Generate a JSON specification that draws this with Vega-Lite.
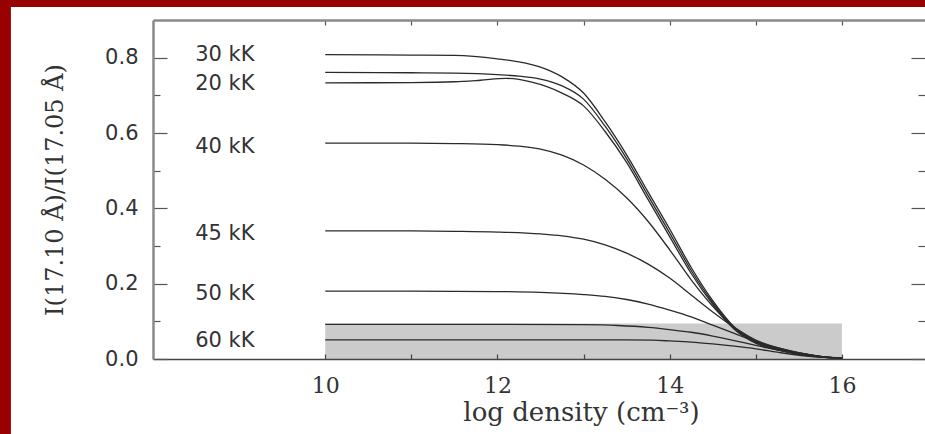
{
  "$schema": "https://vega.github.io/schema/vega-lite/v6.json",
  "width": 772,
  "height": 339,
  "autosize": {"type": "none"},
  "padding": {"left": 153, "top": 20, "right": 0, "bottom": 75},
  "background": "#990000",
  "config": {"view": {"stroke": null}, "axis": {"grid": false}},
  "datasets": {
    "curves": [
      {"series": "30 kK", "x": 10, "y": 0.808}, {"series": "30 kK", "x": 11, "y": 0.807}, {"series": "30 kK", "x": 11.5, "y": 0.806}, {"series": "30 kK", "x": 12, "y": 0.797}, {"series": "30 kK", "x": 12.25, "y": 0.789}, {"series": "30 kK", "x": 12.5, "y": 0.775}, {"series": "30 kK", "x": 12.75, "y": 0.749}, {"series": "30 kK", "x": 13, "y": 0.706}, {"series": "30 kK", "x": 13.25, "y": 0.63}, {"series": "30 kK", "x": 13.5, "y": 0.542}, {"series": "30 kK", "x": 13.75, "y": 0.443}, {"series": "30 kK", "x": 14, "y": 0.345}, {"series": "30 kK", "x": 14.25, "y": 0.243}, {"series": "30 kK", "x": 14.5, "y": 0.155}, {"series": "30 kK", "x": 14.75, "y": 0.085}, {"series": "30 kK", "x": 15, "y": 0.045}, {"series": "30 kK", "x": 15.25, "y": 0.026}, {"series": "30 kK", "x": 15.5, "y": 0.014}, {"series": "30 kK", "x": 15.75, "y": 0.006}, {"series": "30 kK", "x": 16, "y": 0.002},
      {"series": "25 kK", "x": 10, "y": 0.761}, {"series": "25 kK", "x": 11, "y": 0.76}, {"series": "25 kK", "x": 11.5, "y": 0.759}, {"series": "25 kK", "x": 12, "y": 0.755}, {"series": "25 kK", "x": 12.25, "y": 0.751}, {"series": "25 kK", "x": 12.5, "y": 0.743}, {"series": "25 kK", "x": 12.75, "y": 0.725}, {"series": "25 kK", "x": 13, "y": 0.69}, {"series": "25 kK", "x": 13.25, "y": 0.618}, {"series": "25 kK", "x": 13.5, "y": 0.532}, {"series": "25 kK", "x": 13.75, "y": 0.433}, {"series": "25 kK", "x": 14, "y": 0.335}, {"series": "25 kK", "x": 14.25, "y": 0.235}, {"series": "25 kK", "x": 14.5, "y": 0.15}, {"series": "25 kK", "x": 14.75, "y": 0.082}, {"series": "25 kK", "x": 15, "y": 0.043}, {"series": "25 kK", "x": 15.25, "y": 0.025}, {"series": "25 kK", "x": 15.5, "y": 0.013}, {"series": "25 kK", "x": 15.75, "y": 0.006}, {"series": "25 kK", "x": 16, "y": 0.002},
      {"series": "20 kK", "x": 10, "y": 0.733}, {"series": "20 kK", "x": 11, "y": 0.734}, {"series": "20 kK", "x": 11.5, "y": 0.736}, {"series": "20 kK", "x": 11.8, "y": 0.74}, {"series": "20 kK", "x": 12.1, "y": 0.745}, {"series": "20 kK", "x": 12.4, "y": 0.735}, {"series": "20 kK", "x": 12.75, "y": 0.706}, {"series": "20 kK", "x": 13, "y": 0.672}, {"series": "20 kK", "x": 13.25, "y": 0.604}, {"series": "20 kK", "x": 13.5, "y": 0.522}, {"series": "20 kK", "x": 13.75, "y": 0.423}, {"series": "20 kK", "x": 14, "y": 0.325}, {"series": "20 kK", "x": 14.25, "y": 0.227}, {"series": "20 kK", "x": 14.5, "y": 0.145}, {"series": "20 kK", "x": 14.75, "y": 0.079}, {"series": "20 kK", "x": 15, "y": 0.042}, {"series": "20 kK", "x": 15.25, "y": 0.024}, {"series": "20 kK", "x": 15.5, "y": 0.013}, {"series": "20 kK", "x": 15.75, "y": 0.005}, {"series": "20 kK", "x": 16, "y": 0.002},
      {"series": "40 kK", "x": 10, "y": 0.573}, {"series": "40 kK", "x": 11, "y": 0.573}, {"series": "40 kK", "x": 11.5, "y": 0.572}, {"series": "40 kK", "x": 12, "y": 0.569}, {"series": "40 kK", "x": 12.25, "y": 0.565}, {"series": "40 kK", "x": 12.5, "y": 0.557}, {"series": "40 kK", "x": 12.75, "y": 0.541}, {"series": "40 kK", "x": 13, "y": 0.515}, {"series": "40 kK", "x": 13.25, "y": 0.477}, {"series": "40 kK", "x": 13.5, "y": 0.428}, {"series": "40 kK", "x": 13.75, "y": 0.365}, {"series": "40 kK", "x": 14, "y": 0.29}, {"series": "40 kK", "x": 14.25, "y": 0.21}, {"series": "40 kK", "x": 14.5, "y": 0.14}, {"series": "40 kK", "x": 14.75, "y": 0.082}, {"series": "40 kK", "x": 15, "y": 0.048}, {"series": "40 kK", "x": 15.25, "y": 0.028}, {"series": "40 kK", "x": 15.5, "y": 0.016}, {"series": "40 kK", "x": 15.75, "y": 0.007}, {"series": "40 kK", "x": 16, "y": 0.002},
      {"series": "45 kK", "x": 10, "y": 0.34}, {"series": "45 kK", "x": 11, "y": 0.34}, {"series": "45 kK", "x": 11.5, "y": 0.339}, {"series": "45 kK", "x": 12, "y": 0.337}, {"series": "45 kK", "x": 12.5, "y": 0.332}, {"series": "45 kK", "x": 12.75, "y": 0.327}, {"series": "45 kK", "x": 13, "y": 0.318}, {"series": "45 kK", "x": 13.25, "y": 0.303}, {"series": "45 kK", "x": 13.5, "y": 0.281}, {"series": "45 kK", "x": 13.75, "y": 0.252}, {"series": "45 kK", "x": 14, "y": 0.215}, {"series": "45 kK", "x": 14.25, "y": 0.17}, {"series": "45 kK", "x": 14.5, "y": 0.125}, {"series": "45 kK", "x": 14.75, "y": 0.084}, {"series": "45 kK", "x": 15, "y": 0.05}, {"series": "45 kK", "x": 15.25, "y": 0.03}, {"series": "45 kK", "x": 15.5, "y": 0.016}, {"series": "45 kK", "x": 15.75, "y": 0.007}, {"series": "45 kK", "x": 16, "y": 0.002},
      {"series": "50 kK", "x": 10, "y": 0.18}, {"series": "50 kK", "x": 11, "y": 0.18}, {"series": "50 kK", "x": 12, "y": 0.179}, {"series": "50 kK", "x": 12.5, "y": 0.177}, {"series": "50 kK", "x": 13, "y": 0.171}, {"series": "50 kK", "x": 13.25, "y": 0.166}, {"series": "50 kK", "x": 13.5, "y": 0.158}, {"series": "50 kK", "x": 13.75, "y": 0.146}, {"series": "50 kK", "x": 14, "y": 0.13}, {"series": "50 kK", "x": 14.25, "y": 0.112}, {"series": "50 kK", "x": 14.5, "y": 0.09}, {"series": "50 kK", "x": 14.75, "y": 0.068}, {"series": "50 kK", "x": 15, "y": 0.046}, {"series": "50 kK", "x": 15.25, "y": 0.03}, {"series": "50 kK", "x": 15.5, "y": 0.017}, {"series": "50 kK", "x": 15.75, "y": 0.007}, {"series": "50 kK", "x": 16, "y": 0.002},
      {"series": "55 kK", "x": 10, "y": 0.092}, {"series": "55 kK", "x": 12, "y": 0.092}, {"series": "55 kK", "x": 13, "y": 0.091}, {"series": "55 kK", "x": 13.4, "y": 0.089}, {"series": "55 kK", "x": 13.75, "y": 0.084}, {"series": "55 kK", "x": 14, "y": 0.078}, {"series": "55 kK", "x": 14.25, "y": 0.071}, {"series": "55 kK", "x": 14.5, "y": 0.061}, {"series": "55 kK", "x": 14.75, "y": 0.049}, {"series": "55 kK", "x": 15, "y": 0.036}, {"series": "55 kK", "x": 15.25, "y": 0.024}, {"series": "55 kK", "x": 15.5, "y": 0.013}, {"series": "55 kK", "x": 15.75, "y": 0.006}, {"series": "55 kK", "x": 16, "y": 0.002},
      {"series": "60 kK", "x": 10, "y": 0.051}, {"series": "60 kK", "x": 12, "y": 0.051}, {"series": "60 kK", "x": 13.5, "y": 0.051}, {"series": "60 kK", "x": 13.8, "y": 0.05}, {"series": "60 kK", "x": 14, "y": 0.048}, {"series": "60 kK", "x": 14.25, "y": 0.045}, {"series": "60 kK", "x": 14.5, "y": 0.04}, {"series": "60 kK", "x": 14.75, "y": 0.034}, {"series": "60 kK", "x": 15, "y": 0.027}, {"series": "60 kK", "x": 15.25, "y": 0.018}, {"series": "60 kK", "x": 15.5, "y": 0.01}, {"series": "60 kK", "x": 15.75, "y": 0.005}, {"series": "60 kK", "x": 16, "y": 0.002}
    ],
    "labels": [
      {"label": "30 kK", "x": 8.49, "y": 0.806},
      {"label": "20 kK", "x": 8.49, "y": 0.729},
      {"label": "40 kK", "x": 8.49, "y": 0.564},
      {"label": "45 kK", "x": 8.49, "y": 0.333},
      {"label": "50 kK", "x": 8.49, "y": 0.172},
      {"label": "60 kK", "x": 8.49, "y": 0.047}
    ],
    "band": [
      {"x": 10, "x2": 16, "y": 0, "y2": 0.094}
    ]
  },
  "layer": [
    {
      "data": {"values": [{}]},
      "mark": {"type": "rect", "fill": "#ffffff", "clip": false},
      "encoding": {
        "x": {"datum": 6.35, "type": "quantitative", "scale": {"domain": [8, 16.965], "nice": false, "zero": false}, "axis": null},
        "x2": {"datum": 20},
        "y": {"datum": 0.9345, "type": "quantitative", "scale": {"domain": [0, 0.9], "nice": false, "zero": false}, "axis": null},
        "y2": {"datum": -1}
      }
    },
    {
      "data": {"name": "band"},
      "mark": {"type": "rect", "fill": "#cbcbcb"},
      "encoding": {
        "x": {"field": "x", "type": "quantitative", "scale": {"domain": [8, 16.965], "nice": false, "zero": false},
          "axis": {"orient": "bottom", "zindex": 2, "values": [10, 11, 12, 13, 14, 15, 16], "tickSize": -5, "tickColor": "#444", "tickWidth": 1.2,
            "labelExpr": "datum.value % 2 == 0 ? datum.label : ''", "labelFont": "DejaVu Serif", "labelFontSize": 22, "labelColor": "#333", "labelPadding": 21, "labelOverlap": false, "labelFlush": false,
            "domainColor": "#444", "domainWidth": 1.5,
            "title": "log density (cm⁻³)", "titleFont": "DejaVu Serif", "titleFontSize": 26, "titleFontWeight": "normal", "titleColor": "#333",
            "titleX": 428, "titleY": 61, "titleAlign": "center", "titleBaseline": "alphabetic"}},
        "x2": {"field": "x2"},
        "y": {"field": "y", "type": "quantitative", "scale": {"domain": [0, 0.9], "nice": false, "zero": false},
          "axis": {"orient": "left", "zindex": 2, "values": [0, 0.1, 0.2, 0.3, 0.4, 0.5, 0.6, 0.7, 0.8], "format": ".1f",
            "tickSize": {"condition": {"test": "round(datum.value * 10) % 2 == 0", "value": -14}, "value": -7}, "tickColor": "#555", "tickWidth": 1.2,
            "labelExpr": "round(datum.value * 10) % 2 == 0 ? datum.label : ''", "labelFont": "DejaVu Sans", "labelFontSize": 21, "labelColor": "#333", "labelPadding": 29, "labelOverlap": false, "labelFlush": false,
            "domainColor": "#8a8a8a", "domainWidth": 2.5,
            "title": "I(17.10 Å)/I(17.05 Å)", "titleFont": "DejaVu Serif", "titleFontSize": 24, "titleFontWeight": "normal", "titleColor": "#333",
            "titleX": -91, "titleY": 169.5, "titleAngle": -90, "titleAlign": "center", "titleBaseline": "alphabetic"}},
        "y2": {"field": "y2"}
      }
    },
    {
      "data": {"name": "curves"},
      "mark": {"type": "line", "interpolate": "monotone", "stroke": "#2a2a2a", "strokeWidth": 1.3},
      "encoding": {
        "x": {"field": "x", "type": "quantitative", "scale": {"domain": [8, 16.965], "nice": false, "zero": false},
          "axis": {"orient": "top", "zindex": 2, "values": [10, 11, 12, 13, 14, 15, 16], "tickSize": -5, "tickColor": "#555", "tickWidth": 1.2, "labels": false, "title": null, "domainColor": "#8a8a8a", "domainWidth": 2.5}},
        "y": {"field": "y", "type": "quantitative", "scale": {"domain": [0, 0.9], "nice": false, "zero": false},
          "axis": {"orient": "right", "zindex": 2, "values": [0, 0.1, 0.2, 0.3, 0.4, 0.5, 0.6, 0.7, 0.8],
            "tickSize": {"condition": {"test": "round(datum.value * 10) % 2 == 0", "value": -14}, "value": -7}, "tickColor": "#555", "tickWidth": 1.2, "labels": false, "title": null, "domain": false}},
        "detail": {"field": "series", "type": "nominal"}
      }
    },
    {
      "data": {"name": "labels"},
      "mark": {"type": "text", "align": "left", "baseline": "middle", "font": "DejaVu Sans", "fontSize": 21, "fill": "#333"},
      "encoding": {
        "x": {"field": "x", "type": "quantitative", "scale": {"domain": [8, 16.965], "nice": false, "zero": false}, "axis": null},
        "y": {"field": "y", "type": "quantitative", "scale": {"domain": [0, 0.9], "nice": false, "zero": false}, "axis": null},
        "text": {"field": "label", "type": "nominal"}
      }
    }
  ],
  "resolve": {"axis": {"x": "independent", "y": "independent"}}
}
